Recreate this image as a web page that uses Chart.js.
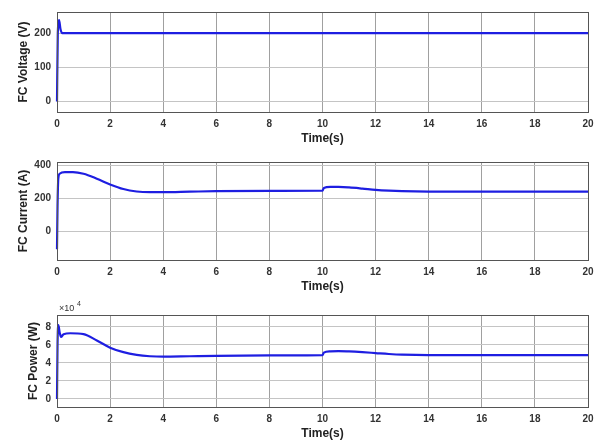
<!DOCTYPE html>
<html>
<head>
<meta charset="utf-8">
<script src="https://cdn.jsdelivr.net/npm/chart.js@4.4.0/dist/chart.umd.min.js"></script>
<style>
body { margin: 0; background: #fff; }
canvas { position: absolute; left: 0; }
</style>
</head>
<body>
<canvas id="c1" width="600" height="150" style="top:0px"></canvas>
<canvas id="c2" width="600" height="148" style="top:150px"></canvas>
<canvas id="c3" width="600" height="147" style="top:298px"></canvas>
<script>
// values
const timeTicks = [0, 2, 4, 6, 8, 10, 12, 14, 16, 18, 20];

const timeV = [0, 0.03, 0.08, 0.13, 0.2, 20];
const voltage = [0, 200, 238, 212, 200, 200];
const voltageTicks = [0, 100, 200];

const timeI = [0, 0.02, 0.05, 0.1, 0.3, 0.6, 1, 1.5, 2, 2.5, 3, 3.5, 4, 5, 6, 8, 10,
               10.05, 10.3, 10.6, 11, 11.5, 12, 12.5, 13, 14, 16, 18, 20];
const current = [-110, 150, 320, 348, 358, 358, 348, 318, 283, 255, 240, 236, 236, 239, 242, 244, 245,
                 262, 268, 268, 265, 258, 250, 245, 242, 240, 240, 240, 240];
const currentTicks = [0, 200, 400];

const timeP = [0, 0.02, 0.05, 0.1, 0.15, 0.25, 0.5, 1, 1.5, 2, 2.5, 3, 3.5, 4, 5, 6, 8, 10,
               10.05, 10.3, 10.6, 11, 11.5, 12, 12.5, 13, 14, 16, 18, 20];
const power = [0, 60000, 82000, 74000, 69000, 72000, 73000, 72000, 65000, 57000, 52000, 49000, 47500, 47000, 47500, 48000, 48500, 48800,
               51500, 53000, 53200, 52800, 52000, 51000, 50000, 49300, 48800, 48800, 48800, 48800];
const powerTicks = [0, 20000, 40000, 60000, 80000];

const lineColor = 'rgb(30,30,225)';
const tickFont = { family: 'Arial, "Liberation Sans"', size: 10, weight: 'bold' };
const titleFont = { family: 'Arial, "Liberation Sans"', size: 12, weight: 'bold' };

// box round the plot area, like a matlab axes
const framePlugin = {
    id: 'frame',
    afterDraw(chart) {
        const a = chart.chartArea;
        const ctx = chart.ctx;
        ctx.save();
        ctx.strokeStyle = '#555';
        ctx.lineWidth = 1;
        ctx.strokeRect(Math.round(a.left) + 0.5, Math.round(a.top) + 0.5, Math.round(a.right - a.left), Math.round(a.bottom - a.top));
        const note = chart.options.plugins.frame.note;
        if (note) {
            ctx.fillStyle = '#333';
            ctx.font = '9px Arial, "Liberation Sans"';
            ctx.textBaseline = 'bottom';
            ctx.fillText('\u00d710', a.left + 2, a.top - 2);
            ctx.font = '7px Arial, "Liberation Sans"';
            ctx.fillText('4', a.left + 20, a.top - 7);
        }
        ctx.restore();
    }
};

function makeChart(id, times, values, yTicks, yMin, yMax, yTitle, padTop, yTitlePad, tickFmt, note) {
    const points = times.map((t, i) => ({ x: t, y: values[i] }));
    return new Chart(document.getElementById(id), {
        type: 'line',
        data: {
            datasets: [{
                data: points,
                borderColor: lineColor,
                borderWidth: 2.2,
                pointRadius: 0,
                cubicInterpolationMode: 'monotone',
                clip: 3,
                fill: false
            }]
        },
        options: {
            responsive: false,
            animation: false,
            layout: { padding: { top: padTop, right: 12, left: 0, bottom: 0 } },
            plugins: { legend: { display: false }, tooltip: { enabled: false }, frame: { note: note } },
            scales: {
                x: {
                    type: 'linear',
                    min: 0,
                    max: 20,
                    afterBuildTicks: s => { s.ticks = timeTicks.map(v => ({ value: v })); },
                    afterFit: s => { s.height = 38; },
                    grid: { color: '#a0a0a0', drawTicks: false },
                    border: { display: false },
                    ticks: { font: tickFont, color: '#333', padding: 6, maxRotation: 0 },
                    title: { display: true, text: 'Time(s)', font: titleFont, color: '#222', padding: { top: 0, bottom: 4 } }
                },
                y: {
                    min: yMin,
                    max: yMax,
                    afterBuildTicks: s => { s.ticks = yTicks.map(v => ({ value: v })); },
                    afterFit: s => { s.width = 57; },
                    grid: { color: '#c4c4c4', drawTicks: false },
                    border: { display: false },
                    ticks: { font: tickFont, color: '#333', padding: 6, callback: tickFmt },
                    title: { display: true, text: yTitle, font: titleFont, color: '#222', padding: { top: yTitlePad, bottom: 0 } }
                }
            }
        },
        plugins: [framePlugin]
    });
}

makeChart('c1', timeV, voltage, voltageTicks, -31, 262, 'FC Voltage (V)', 8, 16, v => v, false);
makeChart('c2', timeI, current, currentTicks, -175, 419, 'FC Current (A)', 6, 16, v => v, false);
makeChart('c3', timeP, power, powerTicks, -8900, 93300, 'FC Power (W)', 17, 26, v => v / 10000, true);
</script>
</body>
</html>
